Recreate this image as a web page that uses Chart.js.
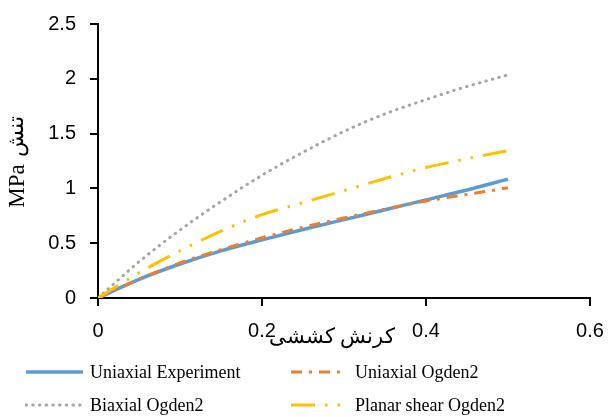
<!DOCTYPE html>
<html>
<head>
<meta charset="utf-8">
<script src="https://cdn.jsdelivr.net/npm/chart.js@4/dist/chart.umd.min.js"></script>
<style>
  html, body { margin:0; padding:0; background:#fff; }
  #wrap { position:relative; width:609px; height:417px; }
  #legend { position:absolute; left:0; top:0; width:609px; height:417px; pointer-events:none;
            font-family:"Liberation Serif","Times New Roman",serif; font-size:18px; color:#000; }
  .item { position:absolute; display:flex; align-items:center; white-space:nowrap; }
  .item svg { display:block; }
</style>
</head>
<body>
<div id="wrap">
  <canvas id="c" width="609" height="417"></canvas>
  <div id="legend"></div>
</div>
<script>
// ---- data ----
const strain = [0, 0.05, 0.1, 0.15, 0.2, 0.25, 0.3, 0.35, 0.4, 0.45, 0.5];
const uniaxialExperiment = [0, 0.17, 0.31, 0.43, 0.53, 0.625, 0.715, 0.805, 0.895, 0.985, 1.085];
const uniaxialOgden2     = [0, 0.17, 0.32, 0.44, 0.55, 0.645, 0.73, 0.81, 0.885, 0.945, 1.005];
const biaxialOgden2      = [0, 0.33, 0.62, 0.88, 1.12, 1.33, 1.52, 1.68, 1.81, 1.93, 2.035];
const planarShearOgden2  = [0, 0.23, 0.43, 0.61, 0.76, 0.87, 0.98, 1.09, 1.19, 1.27, 1.345];

const seriesNames = ["Uniaxial Experiment", "Uniaxial Ogden2", "Biaxial Ogden2", "Planar shear Ogden2"];
const xTickLabels = ["0", "0.2", "0.4", "0.6"];
const yTickLabels = ["0", "0.5", "1", "1.5", "2", "2.5"];
const xTitle = "کرنش کششی";
const yTitleFa = "تنش";
const yTitleUnit = "MPa";

const colors = ["#5B9BD5", "#ED7D31", "#A5A5A5", "#FFC000"];
const dashes = [[], [11, 7, 3, 7], [0.5, 6.2], [24, 10, 2.5, 10, 2.5, 10]];
const widths = [3.5, 3, 3, 3];
const caps = ["butt", "butt", "round", "butt"];
const orders = [4, 3, 2, 1];

const allSeries = [uniaxialExperiment, uniaxialOgden2, biaxialOgden2, planarShearOgden2];

const datasets = allSeries.map((arr, k) => ({
  label: seriesNames[k],
  data: strain.map((x, i) => ({ x: x, y: arr[i] })),
  borderColor: colors[k],
  backgroundColor: colors[k],
  borderWidth: widths[k],
  borderDash: dashes[k],
  borderCapStyle: caps[k],
  pointRadius: 0,
  cubicInterpolationMode: "monotone",
  fill: false,
  order: orders[k]
}));

const tickFont = { family: "'Liberation Sans', Arial, sans-serif", size: 20 };

const titlePlugin = {
  id: "titles",
  afterDraw(chart) {
    const ctx = chart.ctx;
    ctx.save();
    ctx.fillStyle = "#000";
    ctx.font = "21px 'Liberation Serif', 'Times New Roman', serif";
    ctx.textAlign = "center";
    ctx.textBaseline = "middle";
    ctx.direction = "rtl";
    ctx.fillText(xTitle, 332, 337);
    ctx.restore();

    ctx.save();
    ctx.fillStyle = "#000";
    ctx.translate(17, 162);
    ctx.rotate(-Math.PI / 2);
    ctx.textBaseline = "middle";
    ctx.font = "23px 'Liberation Serif', 'Times New Roman', serif";
    const unitW = ctx.measureText(yTitleUnit).width;
    ctx.font = "22px 'Liberation Serif', 'Times New Roman', serif";
    const faW = ctx.measureText(yTitleFa).width;
    const gap = 7;
    const total = unitW + gap + faW;
    ctx.textAlign = "left";
    ctx.font = "23px 'Liberation Serif', 'Times New Roman', serif";
    ctx.fillText(yTitleUnit, -total / 2, 1);
    ctx.font = "22px 'Liberation Serif', 'Times New Roman', serif";
    ctx.fillText(yTitleFa, -total / 2 + unitW + gap, 0);
    ctx.restore();
  }
};

new Chart(document.getElementById("c"), {
  type: "line",
  data: { datasets: datasets },
  options: {
    responsive: false,
    animation: false,
    layout: { padding: { top: 24, right: 19, left: 0, bottom: 0 } },
    plugins: { legend: { display: false }, tooltip: { enabled: false } },
    scales: {
      x: {
        type: "linear", min: 0, max: 0.6,
        afterBuildTicks(s) { s.ticks = xTickLabels.map(v => ({ value: parseFloat(v) })); },
        ticks: { callback: (v, i) => xTickLabels[i], color: "#000", font: tickFont, padding: 13, maxRotation: 0 },
        grid: { drawOnChartArea: false, drawTicks: true, tickLength: 8, color: "#000", lineWidth: 2 },
        border: { color: "#000", width: 2 },
        afterFit(s) { s.height = 119; s.paddingLeft = 0; s.paddingRight = 0; }
      },
      y: {
        type: "linear", min: 0, max: 2.5,
        afterBuildTicks(s) { s.ticks = yTickLabels.map(v => ({ value: parseFloat(v) })); },
        ticks: { callback: (v, i) => yTickLabels[i], color: "#000", font: tickFont, padding: 14 },
        grid: { drawOnChartArea: false, drawTicks: true, tickLength: 8, color: "#000", lineWidth: 2 },
        border: { color: "#000", width: 2 },
        afterFit(s) { s.width = 98; s.paddingTop = 0; s.paddingBottom = 0; }
      }
    }
  },
  plugins: [titlePlugin]
});

// ---- HTML legend (2 columns) ----
const legendPos = [
  { left: 25, top: 360 }, { left: 290, top: 360 },
  { left: 25, top: 393 }, { left: 290, top: 393 }
];
const sampleW = [59, 58, 59, 58];
const textGap = [6, 7, 6, 7];
const legend = document.getElementById("legend");
seriesNames.forEach((name, k) => {
  const d = document.createElement("div");
  d.className = "item";
  d.style.left = legendPos[k].left + "px";
  d.style.top = legendPos[k].top + "px";
  const w = sampleW[k];
  const dash = dashes[k].length ? dashes[k].join(" ") : "none";
  d.innerHTML = `<svg width="${w}" height="24" style="margin-right:${textGap[k]}px"><line x1="1" y1="12" x2="${w - 1}" y2="12" stroke="${colors[k]}" stroke-width="${widths[k]}" stroke-dasharray="${dash}" stroke-linecap="${caps[k]}"/></svg><span>${name}</span>`;
  legend.appendChild(d);
});
</script>
</body>
</html>
